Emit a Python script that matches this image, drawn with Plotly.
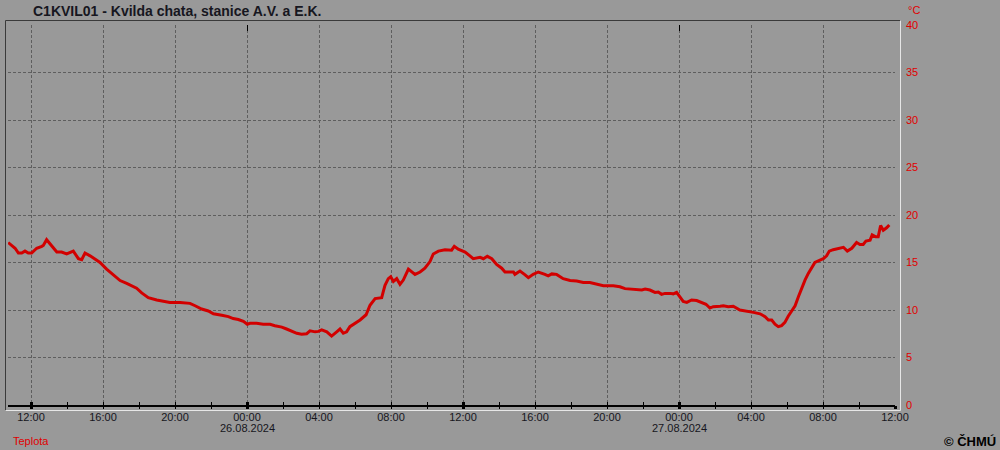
import plotly.graph_objects as go

# ---- data ----
times = [
 "2024-08-25 10:44","2024-08-25 10:56","2024-08-25 11:07","2024-08-25 11:18","2024-08-25 11:29",
 "2024-08-25 11:40","2024-08-25 11:51","2024-08-25 12:02","2024-08-25 12:19","2024-08-25 12:36",
 "2024-08-25 12:41","2024-08-25 12:52","2024-08-25 13:09","2024-08-25 13:26","2024-08-25 13:42",
 "2024-08-25 13:59","2024-08-25 14:21","2024-08-25 14:38","2024-08-25 14:49","2024-08-25 15:00",
 "2024-08-25 15:17","2024-08-25 15:33","2024-08-25 15:50","2024-08-25 16:12","2024-08-25 16:34",
 "2024-08-25 16:57","2024-08-25 17:19","2024-08-25 17:41","2024-08-25 17:52","2024-08-25 18:09",
 "2024-08-25 18:31","2024-08-25 18:59","2024-08-25 19:21","2024-08-25 19:43","2024-08-25 20:17",
 "2024-08-25 20:50","2024-08-25 21:07","2024-08-25 21:29","2024-08-25 21:51","2024-08-25 22:08",
 "2024-08-25 22:36","2024-08-25 22:58","2024-08-25 23:14","2024-08-25 23:31","2024-08-25 23:48",
 "2024-08-26 00:01","2024-08-26 00:10","2024-08-26 00:32","2024-08-26 00:54","2024-08-26 01:17",
 "2024-08-26 01:33","2024-08-26 01:56","2024-08-26 02:12","2024-08-26 02:29","2024-08-26 02:46",
 "2024-08-26 03:02","2024-08-26 03:19","2024-08-26 03:30","2024-08-26 03:47","2024-08-26 03:58",
 "2024-08-26 04:09","2024-08-26 04:26","2024-08-26 04:42","2024-08-26 04:59","2024-08-26 05:10",
 "2024-08-26 05:21","2024-08-26 05:32","2024-08-26 05:43","2024-08-26 06:00","2024-08-26 06:17",
 "2024-08-26 06:37","2024-08-26 06:50","2024-08-26 07:07","2024-08-26 07:29","2024-08-26 07:34",
 "2024-08-26 07:40","2024-08-26 07:51","2024-08-26 07:59","2024-08-26 08:08","2024-08-26 08:19",
 "2024-08-26 08:30","2024-08-26 08:41","2024-08-26 08:58","2024-08-26 09:20","2024-08-26 09:37",
 "2024-08-26 09:53","2024-08-26 10:10","2024-08-26 10:21","2024-08-26 10:38","2024-08-26 11:00",
 "2024-08-26 11:22","2024-08-26 11:31","2024-08-26 11:44","2024-08-26 12:07","2024-08-26 12:23",
 "2024-08-26 12:34","2024-08-26 12:57","2024-08-26 13:08","2024-08-26 13:21","2024-08-26 13:36",
 "2024-08-26 13:52","2024-08-26 14:09","2024-08-26 14:20","2024-08-26 14:48","2024-08-26 14:53",
 "2024-08-26 15:10","2024-08-26 15:27","2024-08-26 15:38","2024-08-26 15:54","2024-08-26 16:11",
 "2024-08-26 16:33","2024-08-26 16:44","2024-08-26 16:56","2024-08-26 17:12","2024-08-26 17:34",
 "2024-08-26 17:57","2024-08-26 18:19","2024-08-26 18:41","2024-08-26 19:03","2024-08-26 19:26",
 "2024-08-26 19:48","2024-08-26 20:21","2024-08-26 20:43","2024-08-26 21:00","2024-08-26 21:17",
 "2024-08-26 21:39","2024-08-26 21:56","2024-08-26 22:07","2024-08-26 22:23","2024-08-26 22:40",
 "2024-08-26 22:51","2024-08-26 23:02","2024-08-26 23:13","2024-08-26 23:30","2024-08-26 23:41",
 "2024-08-26 23:52","2024-08-27 00:03","2024-08-27 00:14","2024-08-27 00:26","2024-08-27 00:42",
 "2024-08-27 00:59","2024-08-27 01:16","2024-08-27 01:30","2024-08-27 01:43","2024-08-27 01:54",
 "2024-08-27 02:17","2024-08-27 02:28","2024-08-27 02:44","2024-08-27 03:01","2024-08-27 03:23",
 "2024-08-27 03:46","2024-08-27 04:08","2024-08-27 04:30","2024-08-27 04:47","2024-08-27 04:58",
 "2024-08-27 05:09","2024-08-27 05:20","2024-08-27 05:31","2024-08-27 05:42","2024-08-27 05:53",
 "2024-08-27 06:04","2024-08-27 06:16","2024-08-27 06:27","2024-08-27 06:38","2024-08-27 06:49",
 "2024-08-27 07:00","2024-08-27 07:11","2024-08-27 07:22","2024-08-27 07:33","2024-08-27 07:50",
 "2024-08-27 08:01","2024-08-27 08:12","2024-08-27 08:21","2024-08-27 08:34","2024-08-27 08:51",
 "2024-08-27 09:08","2024-08-27 09:21","2024-08-27 09:36","2024-08-27 09:52","2024-08-27 10:03",
 "2024-08-27 10:14","2024-08-27 10:23","2024-08-27 10:37","2024-08-27 10:44","2024-08-27 10:56",
 "2024-08-27 11:04","2024-08-27 11:12","2024-08-27 11:21","2024-08-27 11:32","2024-08-27 11:41",
]
teplota = [
 17.1,16.8,16.5,16.0,16.0, 16.2,16.0,16.0,16.5,16.7,
 16.8,17.4,16.8,16.1,16.1, 15.9,16.2,15.4,15.3,16.0,
 15.7,15.4,15.0,14.3,13.7, 13.1,12.8,12.5,12.3,11.8,
 11.3,11.05,10.9,10.8,10.8, 10.7,10.45,10.1,9.9,9.6,
 9.45,9.3,9.1,9.0,8.8, 8.5,8.6,8.6,8.5,8.5,
 8.35,8.2,8.0,7.8,7.55, 7.45,7.5,7.8,7.7,7.75,
 7.9,7.7,7.25,7.7,8.0, 7.55,7.7,8.25,8.6,8.95,
 9.5,10.5,11.2,11.3,11.9, 12.6,13.3,13.5,13.0,13.3,
 12.7,13.15,14.3,13.75,14.0, 14.4,15.1,15.9,16.2,16.35,
 16.3,16.7,16.4,16.1,15.7, 15.4,15.55,15.4,15.65,15.4,
 14.8,14.4,14.0,14.0,13.75, 14.1,13.7,13.4,13.75,14.0,
 13.75,13.6,13.8,13.75,13.3, 13.1,13.05,12.9,12.9,12.7,
 12.55,12.55,12.45,12.25,12.2, 12.1,12.1,12.2,12.1,11.85,
 11.9,11.65,11.75,11.75,11.7, 11.85,11.4,10.9,10.8,11.05,
 11.0,10.8,10.6,10.2,10.35, 10.4,10.45,10.35,10.4,10.0,
 9.9,9.75,9.6,9.3,8.95, 8.95,8.5,8.25,8.35,8.7,
 9.35,10.0,10.45,11.4,12.35, 13.15,13.85,14.45,15.0,15.25,
 15.4,15.7,16.2,16.35,16.45, 16.6,16.2,16.5,17.1,16.9,
 16.9,17.25,17.35,17.9,17.7, 17.7,18.9,18.4,18.65,18.95,
]
tick_vals = ["2024-08-25 12:00","2024-08-25 16:00","2024-08-25 20:00","2024-08-26 00:00",
             "2024-08-26 04:00","2024-08-26 08:00","2024-08-26 12:00","2024-08-26 16:00",
             "2024-08-26 20:00","2024-08-27 00:00","2024-08-27 04:00","2024-08-27 08:00",
             "2024-08-27 12:00"]
tick_text = ["12:00","16:00","20:00","00:00","04:00","08:00","12:00","16:00",
             "20:00","00:00","04:00","08:00","12:00"]
midnights = ["2024-08-26 00:00","2024-08-27 00:00"]
date_labels = ["26.08.2024","27.08.2024"]
y_ticks = [0,5,10,15,20,25,30,35,40]
title_text = "C1KVIL01 - Kvilda chata, stanice A.V. a E.K."
x_range = ["2024-08-25 10:43:20","2024-08-27 12:00"]

BG = "#999999"
GRID = "#5e5e5e"
RED = "#e00000"
DARK = "#161620"
FONT = "Liberation Sans, Arial, sans-serif"

# plot-area geometry (px)
L, R, T, B = 8, 105, 25, 45
W, H = 1000 - L - R, 450 - T - B

def px_x(p):
    return (p - L) / W

def px_y(p):
    return (450 - B - p) / H

fig = go.Figure()
fig.add_trace(go.Scatter(x=times, y=teplota, mode="lines",
                         line=dict(color="#d20000", width=3),
                         hoverinfo="x+y", showlegend=False))
# invisible copies for overlay tick axes
for xa in ["x2", "x3", "x4"]:
    fig.add_trace(go.Scatter(x=times, y=teplota, mode="lines", xaxis=xa,
                             line=dict(color="rgba(0,0,0,0)", width=0),
                             hoverinfo="skip", showlegend=False))

common = dict(type="date", range=x_range, showgrid=False, zeroline=False, showticklabels=False)
fig.update_layout(
    width=1000, height=450,
    margin=dict(l=L, r=R, t=T, b=B, pad=0),
    paper_bgcolor=BG, plot_bgcolor=BG,
    font=dict(family=FONT, size=11, color=DARK),
    xaxis=dict(type="date", range=x_range, tickmode="array", tickvals=tick_vals,
               ticktext=tick_text, showgrid=True, gridcolor=GRID, griddash="3px,2px",
               gridwidth=1, zeroline=False, showline=True, linecolor="black", linewidth=2,
               ticks="outside", ticklen=1, tickcolor="rgba(0,0,0,0)",
               tickfont=dict(family=FONT, size=11, color=DARK)),
    xaxis2=dict(overlaying="x", anchor="y", side="bottom", ticks="outside", ticklen=3,
                tickwidth=3, tickcolor="black", tick0="2024-08-25 00:00", dtick=43200000,
                minor=dict(ticks="outside", ticklen=3, tickwidth=1, tickcolor="black",
                           dtick=7200000, tick0="2024-08-25 00:00", showgrid=False),
                **common),
    xaxis3=dict(overlaying="x", anchor="y", side="bottom", ticks="inside", ticklen=3,
                tickwidth=3, tickcolor="black", tick0="2024-08-25 00:00", dtick=43200000,
                minor=dict(ticks="inside", ticklen=3, tickwidth=1, tickcolor="black",
                           dtick=7200000, tick0="2024-08-25 00:00", showgrid=False),
                **common),
    xaxis4=dict(overlaying="x", anchor="y", side="top", ticks="inside", ticklen=6,
                tickwidth=1, tickcolor="black", tickmode="array", tickvals=midnights,
                **common),
    yaxis=dict(range=[0, 40], side="right", tickmode="array", tickvals=y_ticks,
               showgrid=True, gridcolor=GRID, griddash="3px,2px", gridwidth=1,
               zeroline=False, showline=False, ticks="", ticklabelstandoff=10,
               tickfont=dict(family=FONT, size=11, color=RED)),
)

# sunken frame around the plot
fig.add_shape(type="line", xref="paper", yref="paper", x0=px_x(5.5), x1=px_x(900.5),
              y0=px_y(20.5), y1=px_y(20.5), line=dict(color="#3a3a3a", width=1))
fig.add_shape(type="line", xref="paper", yref="paper", x0=px_x(5.5), x1=px_x(5.5),
              y0=px_y(20.5), y1=px_y(410.5), line=dict(color="#3a3a3a", width=1))
fig.add_shape(type="line", xref="paper", yref="paper", x0=px_x(5.5), x1=px_x(900.5),
              y0=px_y(410.5), y1=px_y(410.5), line=dict(color="#e6e6e6", width=1))
fig.add_shape(type="line", xref="paper", yref="paper", x0=px_x(900.5), x1=px_x(900.5),
              y0=px_y(20.5), y1=px_y(410.5), line=dict(color="#e6e6e6", width=1))

# date labels under midnight ticks
for m, d in zip(midnights, date_labels):
    fig.add_annotation(text=d, x=m, xref="x", yref="paper", y=px_y(428),
                       xanchor="center", yanchor="middle", showarrow=False,
                       font=dict(family=FONT, size=11, color=DARK))

# texts
fig.add_annotation(text="<b>" + title_text + "</b>", xref="paper", yref="paper",
                   x=px_x(31), y=px_y(11), xanchor="left", yanchor="middle", showarrow=False,
                   font=dict(family=FONT, size=14, color=DARK))
fig.add_annotation(text="°C", xref="paper", yref="paper", x=px_x(906), y=px_y(10),
                   xanchor="left", yanchor="middle", showarrow=False,
                   font=dict(family=FONT, size=11, color=RED))
fig.add_annotation(text="Teplota", xref="paper", yref="paper", x=px_x(11), y=px_y(441),
                   xanchor="left", yanchor="middle", showarrow=False,
                   font=dict(family=FONT, size=11, color=RED))
fig.add_annotation(text="<b>© ČHMÚ</b>", xref="paper", yref="paper", x=px_x(998), y=px_y(441),
                   xanchor="right", yanchor="middle", showarrow=False,
                   font=dict(family=FONT, size=13, color="black"))

fig.write_html("out.html", config={"displayModeBar": False},
               post_script="document.body.style.margin='0';document.body.style.overflow='hidden';")
